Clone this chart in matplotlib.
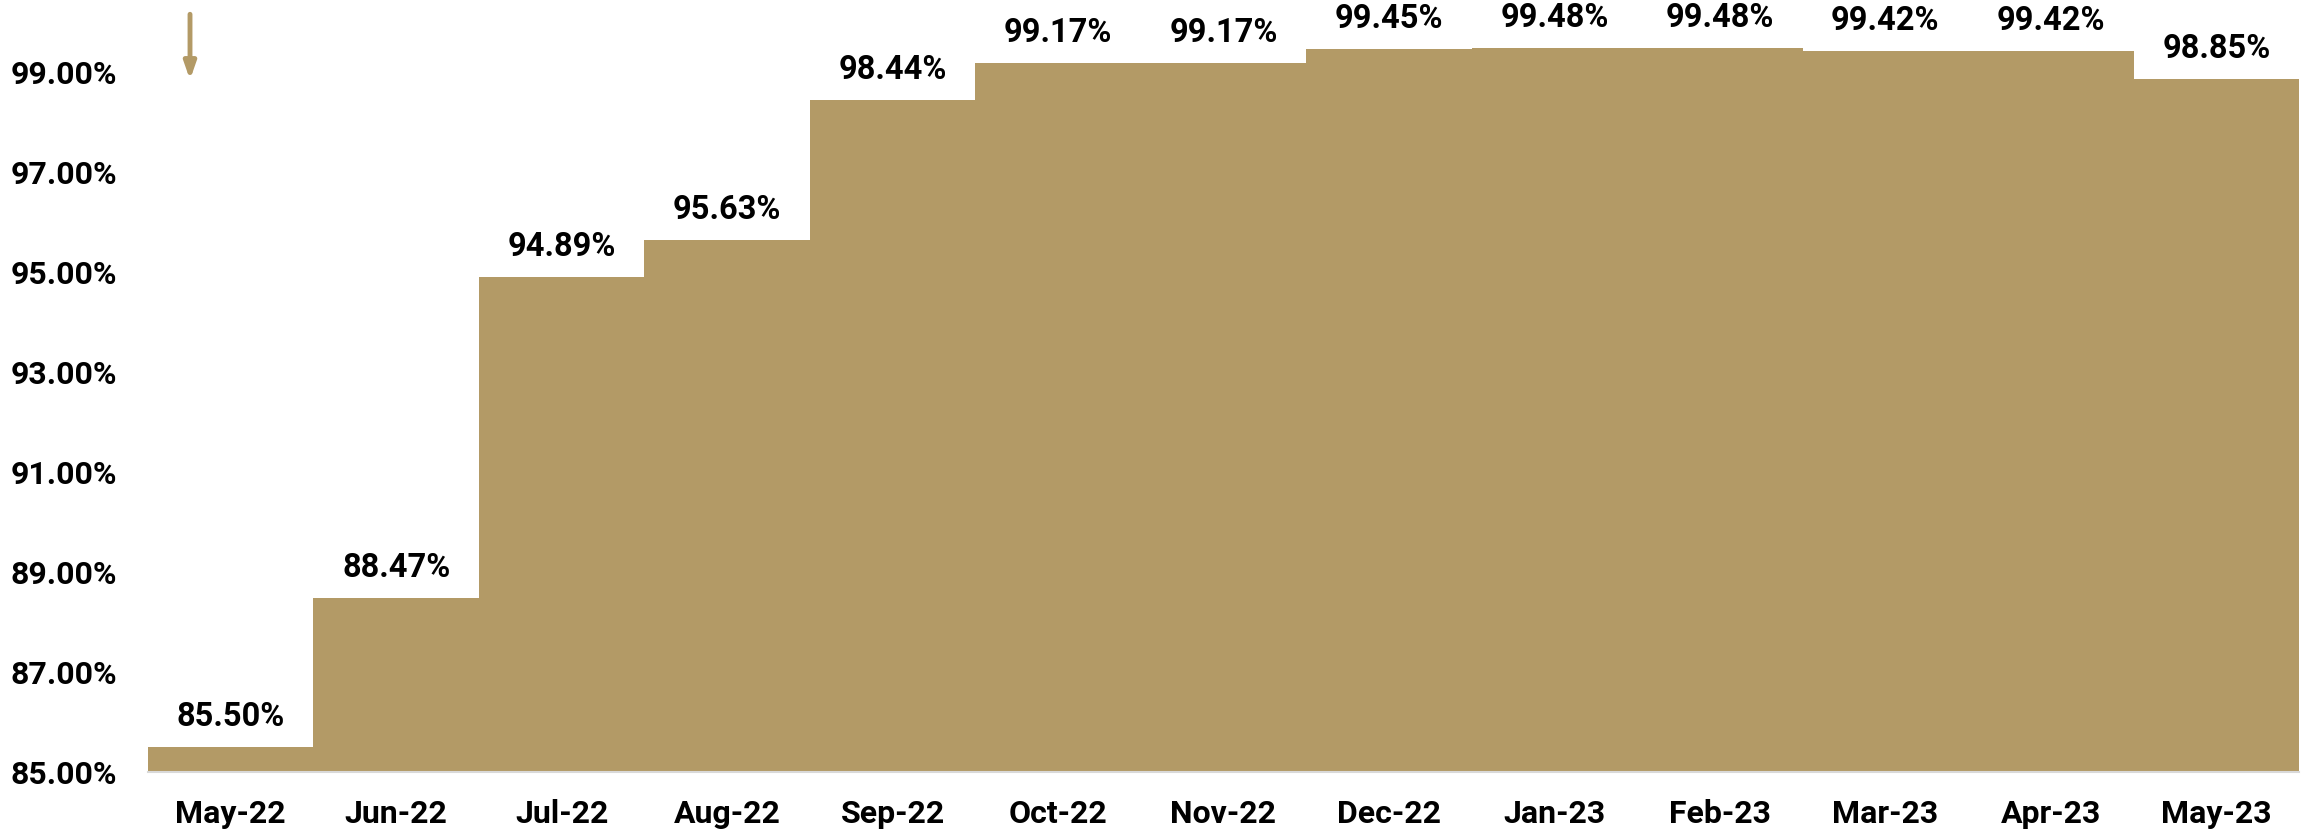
import numpy as np
import matplotlib.pyplot as plt

months = ['May-22', 'Jun-22', 'Jul-22', 'Aug-22', 'Sep-22', 'Oct-22', 'Nov-22',
          'Dec-22', 'Jan-23', 'Feb-23', 'Mar-23', 'Apr-23', 'May-23']
values = [85.50, 88.47, 94.89, 95.63, 98.44, 99.17, 99.17,
          99.45, 99.48, 99.48, 99.42, 99.42, 98.85]
yticks = [85, 87, 89, 91, 93, 95, 97, 99]

gold = '#B39A66'
plt.rcParams['font.family'] = ['Roboto', 'DejaVu Sans']

fig = plt.figure(figsize=(23.05, 8.31), dpi=100)
ax = fig.add_axes([0.0642, 0.0714, 0.9332, 0.9286])

x = np.arange(len(months))
ax.bar(x, np.array(values) - 85, width=1.0, bottom=85, color=gold, linewidth=0)
for xi, v in zip(x, values):
    ax.annotate(f'{v:.2f}%', (xi, v), xytext=(0, 10), textcoords='offset points',
                ha='center', va='bottom', fontsize=23.5, fontweight='bold')

# arrow marker above the first bar
ax.annotate('', xy=(-0.246, 98.78), xytext=(-0.246, 100.2),
            arrowprops=dict(arrowstyle='-|>,head_width=0.35,head_length=1.0',
                            color=gold, lw=3.5), annotation_clip=False)

ax.set_xlim(-0.5, len(months) - 0.5)
ax.set_ylim(85, 100.43)
ax.set_xticks(x)
ax.set_xticklabels(months, fontsize=23, fontweight='bold')
ax.set_yticks(yticks)
ax.set_yticklabels([f'{t:.2f}%' for t in yticks], fontsize=23, fontweight='bold')
ax.tick_params(axis='both', length=0)
ax.tick_params(axis='x', pad=20)
ax.tick_params(axis='y', pad=22)
for s in ['top', 'right', 'left']:
    ax.spines[s].set_visible(False)
ax.spines['bottom'].set_color('#d9d9d9')
ax.spines['bottom'].set_linewidth(1.5)

fig.savefig('out.png', dpi=100)
